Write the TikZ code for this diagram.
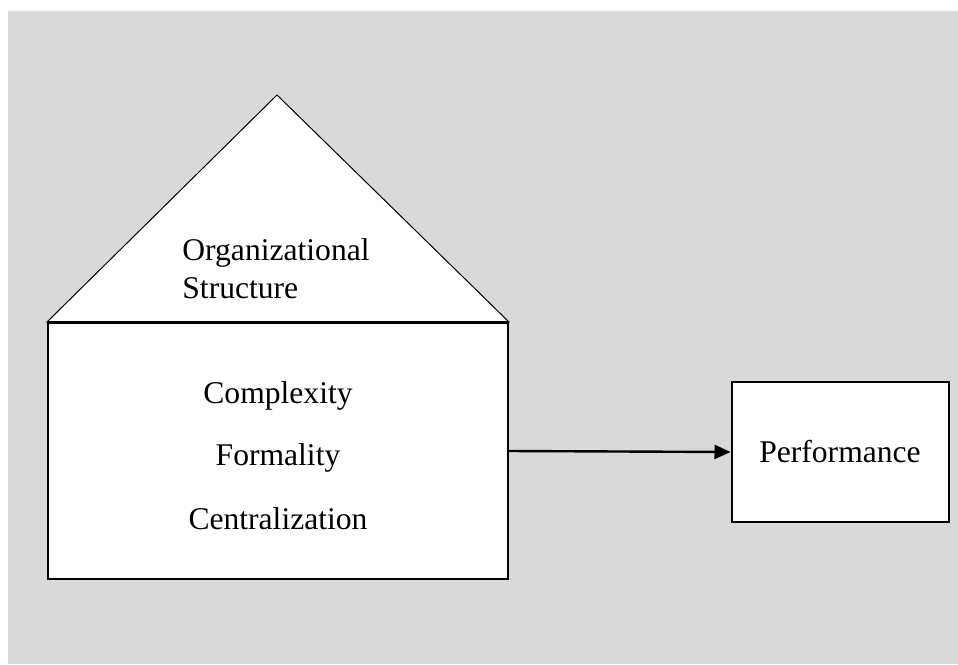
\documentclass[tikz,border=0pt]{standalone}
\usepackage{fontspec}
\setmainfont{Liberation Serif}
\usepackage{tikz}
\usetikzlibrary{arrows.meta, positioning}
\definecolor{panelgray}{HTML}{D9D9D9}
\tikzset{
    base/.style={draw=black, line width=1pt, fill=white, inner sep=0pt},
    houseline/.style={draw=black, line width=0.5pt},
    label/.style={font=\fontsize{15.8}{19}\selectfont},
    arrow/.style={line width=1.2pt, -{Triangle[length=8pt, width=7pt]}, draw=black}
}

\begin{document}
\begin{tikzpicture}[x=0.5pt, y=-0.5pt]
        % Background
        \useasboundingbox (0,0) rectangle (958,664);
        \fill[panelgray] (8,11) rectangle (958,664);

        % Nodes
        \node (body) [base, minimum width=230pt, minimum height=128pt] at (278,451) {};
        \node (perf) [base, minimum width=108.5pt, minimum height=70pt, label] at (840,452) {Performance};
        \coordinate (apex) at (277,95);

        % Roof
        \filldraw [houseline, fill=white] (body.north west) -- (apex) -- (body.north east) -- cycle;
        \draw [line width=1pt] (body.north west) -- (body.north east);

        \node (org) [label, align=left, anchor=base west, inner sep=0pt] at (182,298) {Organizational\\Structure};
        \node (cpx) [label, anchor=base] at (278,403) {Complexity};
        \node (frm) [label, anchor=base] at (278,465) {Formality};
        \node (cen) [label, anchor=base] at (278,529) {Centralization};

        % Arrows
        \draw [arrow] (body.east) -- (perf.west);
    \end{tikzpicture}
\end{document}
